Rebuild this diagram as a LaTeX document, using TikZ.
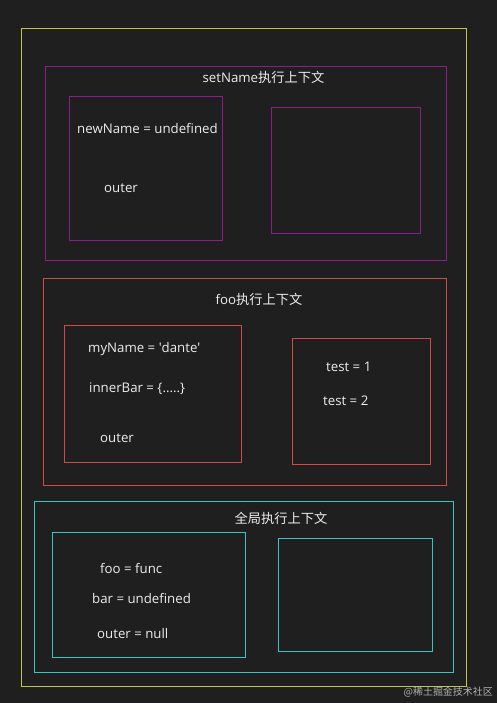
\documentclass[tikz,border=0pt]{standalone}
\usepackage{fontspec}
\setmainfont{Open Sans}
\newfontfamily\cjk{Noto Sans CJK SC}
\usepackage{tikz}
\usetikzlibrary{positioning}
\definecolor{bgC}{HTML}{1F1F1F}
\definecolor{yellowC}{HTML}{BFC83A}
\definecolor{purpleC}{HTML}{8A1E8A}
\definecolor{redC}{HTML}{D04A4A}
\definecolor{cyanC}{HTML}{3CC4C4}
\definecolor{txtC}{HTML}{EDEDED}

\begin{document}
\begin{tikzpicture}[
  x=1bp, y=-1bp,
  box/.style={draw, line width=1.1bp, inner sep=0pt, minimum width=#1},
  vartext/.style={text=txtC, font=\fontsize{13.3}{16}\selectfont, inner sep=0pt, anchor=west},
  ctxtitle/.style={text=txtC, font=\fontsize{13.3}{16}\selectfont, inner sep=0pt},
]
\fill[bgC] (0,0) rectangle (497,703);
\useasboundingbox (0,0) rectangle (497,703);

% outer frame
\node[box=445bp, draw=yellowC, minimum height=658bp] (frame) at (244,357.5) {};

% setName context
\node[box=401bp, draw=purpleC, minimum height=194bp] (setname) at (246,163.5) {};
\node[box=153bp, draw=purpleC, minimum height=144bp] (snvars) at (146,168.5) {};
\node[box=149bp, draw=purpleC, minimum height=126bp] (snstack) at (346,170.5) {};
\node[ctxtitle] (sntitle) at (263.5,77) {setName{\cjk 执行上下文}};
\node[vartext] (newname) at (77,128) {newName = undefined};
\node[vartext] (snouter) at (104,188) {outer};

% foo context
\node[box=403bp, draw=redC, minimum height=207bp] (foo) at (245,382) {};
\node[box=177bp, draw=redC, minimum height=137bp] (foovars) at (153,394) {};
\node[box=138bp, draw=redC, minimum height=126bp] (foostack) at (361.5,401.5) {};
\node[ctxtitle] (footitle) at (259,299) {foo{\cjk 执行上下文}};
\node[vartext] (myname) at (88,349) {myName = \textquotesingle dante\textquotesingle};
\node[vartext] (innerbar) at (89,389) {innerBar = \{.....\}};
\node[vartext] (fooouter) at (100,438) {outer};
\node[vartext] (testa) at (326,367) {test = 1};
\node[vartext] (testb) at (323,401) {test = 2};

% global context
\node[box=419bp, draw=cyanC, minimum height=171bp] (global) at (244,587) {};
\node[box=193bp, draw=cyanC, minimum height=125bp] (glvars) at (149,595) {};
\node[box=154bp, draw=cyanC, minimum height=113bp] (glstack) at (355.5,595) {};
\node[ctxtitle, font=\cjk\fontsize{13.3}{16}\selectfont] (gltitle) at (281,518) {全局执行上下文};
\node[vartext] (foofunc) at (100,568) {foo = func};
\node[vartext] (barundef) at (92,598) {bar = undefined};
\node[vartext] (outernull) at (97,634) {outer = null};

% watermark
\node[text=gray!60, font=\cjk\fontsize{10}{12}\selectfont, inner sep=0pt, anchor=east] (mark) at (493,692) {@稀土掘金技术社区};
\end{tikzpicture}
\end{document}
